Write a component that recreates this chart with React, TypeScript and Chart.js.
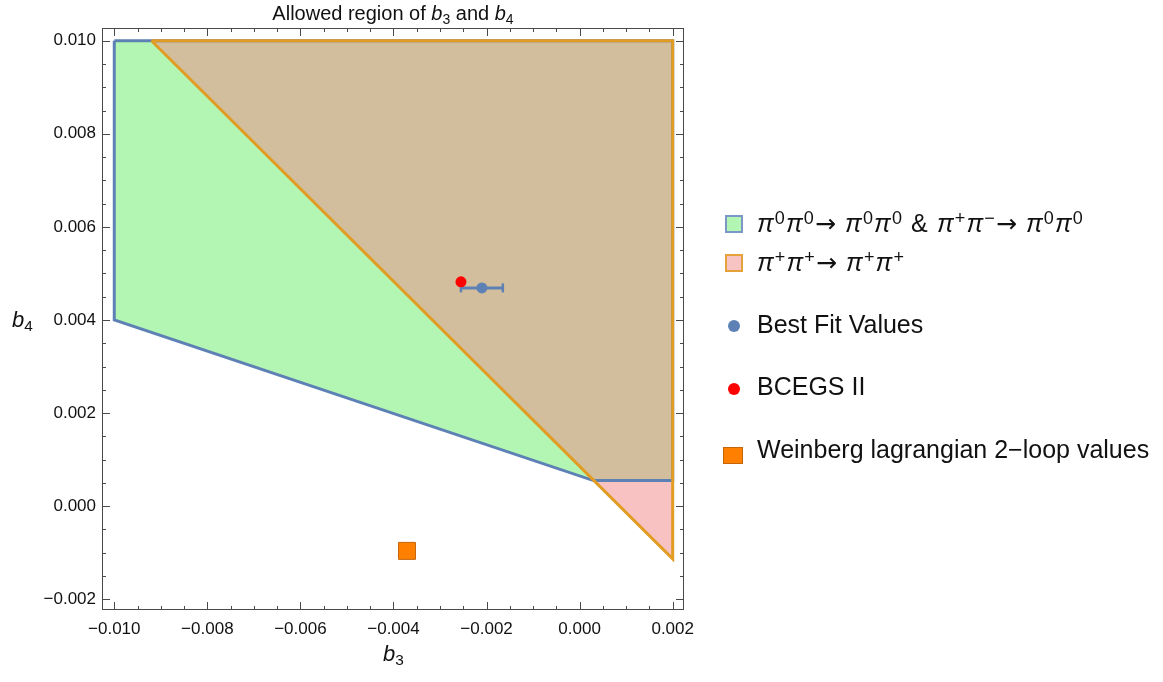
import React, { useEffect, useRef } from "react";
import Chart from "chart.js/auto";

// ---- axis ranges / ticks ----
const X_MIN = -0.010264;
const X_MAX = 0.002243;
const Y_MIN = -0.00223;
const Y_MAX = 0.010273;
const MAJOR_STEP = 0.002;
const MINOR_STEP = 0.0005;

// ---- regions ----
// pi0 pi0 -> pi0 pi0 & pi+ pi- -> pi0 pi0 (green, blue edge)
const greenRegionB3 = [-0.01, -0.01, 0.0003, 0.002, 0.002, -0.01];
const greenRegionB4 = [0.01, 0.004, 0.00055, 0.00055, 0.01, 0.01];
// pi+ pi+ -> pi+ pi+ (pink, orange edge)
const orangeRegionB3 = [-0.0092, 0.002, 0.002, -0.0092];
const orangeRegionB4 = [0.01, 0.01, -0.00113, 0.01];

// ---- points ----
const bestFitB3 = [-0.0021];
const bestFitB4 = [0.00469];
const bestFitB3Err = [0.00045];
const bcegsB3 = [-0.00255];
const bcegsB4 = [0.00482];
const weinbergB3 = [-0.00371];
const weinbergB4 = [-0.00096];

const BLUE = "#5e81b5";
const ORANGE = "#e19c24";
const FONT = '"Liberation Sans", Arial, sans-serif';

const toPts = (xs: number[], ys: number[]) => xs.map((x, i) => ({ x, y: ys[i] }));

const fmt = (v: number) => {
  const s = Math.abs(v) < 1e-12 ? "0.000" : v.toFixed(3);
  return s.replace("-", "\u2212");
};

const framePlugin = {
  id: "frameTicks",
  afterDraw(chart: any) {
    const { ctx, chartArea, scales } = chart;
    const { left, right, top, bottom } = chartArea;
    ctx.save();
    ctx.strokeStyle = "#4a4a4a";
    ctx.lineWidth = 1;
    ctx.strokeRect(left + 0.5, top + 0.5, right - left - 1, bottom - top - 1);
    const xs = scales.x;
    const ys = scales.y;
    ctx.beginPath();
    for (let k = -24; k <= 8; k++) {
      const v = k * MINOR_STEP;
      const len = k % 4 === 0 ? 8 : 4;
      if (v >= X_MIN && v <= X_MAX) {
        const px = Math.round(xs.getPixelForValue(v)) + 0.5;
        ctx.moveTo(px, bottom);
        ctx.lineTo(px, bottom - len);
        ctx.moveTo(px, top);
        ctx.lineTo(px, top + len);
      }
    }
    for (let k = -8; k <= 24; k++) {
      const v = k * MINOR_STEP;
      const len = k % 4 === 0 ? 8 : 4;
      if (v >= Y_MIN && v <= Y_MAX) {
        const py = Math.round(ys.getPixelForValue(v)) + 0.5;
        ctx.moveTo(left, py);
        ctx.lineTo(left + len, py);
        ctx.moveTo(right, py);
        ctx.lineTo(right - len, py);
      }
    }
    ctx.stroke();
    ctx.restore();
  },
};

function ChartCanvas() {
  const ref = useRef<HTMLCanvasElement | null>(null);
  useEffect(() => {
    if (!ref.current) return;
    const errPts = [
      { x: bestFitB3[0] - bestFitB3Err[0], y: bestFitB4[0] },
      { x: bestFitB3[0] + bestFitB3Err[0], y: bestFitB4[0] },
    ];
    const chart = new Chart(ref.current, {
      type: "scatter",
      data: {
        datasets: [
          {
            label: "green",
            data: toPts(greenRegionB3, greenRegionB4),
            showLine: true,
            fill: "shape",
            backgroundColor: "rgb(179,246,179)",
            borderColor: BLUE,
            borderWidth: 3,
            borderJoinStyle: "miter",
            pointRadius: 0,
            order: 9,
          } as any,
          {
            label: "orange",
            data: toPts(orangeRegionB3, orangeRegionB4),
            showLine: true,
            fill: "shape",
            backgroundColor: "rgba(241,134,134,0.5)",
            borderColor: ORANGE,
            borderWidth: 3,
            borderJoinStyle: "miter",
            pointRadius: 0,
            order: 8,
          } as any,
          {
            label: "err",
            data: errPts,
            showLine: true,
            borderColor: BLUE,
            borderWidth: 3,
            pointStyle: "line",
            pointRotation: 90,
            pointRadius: 4.5,
            pointBorderWidth: 2.5,
            pointBorderColor: BLUE,
            order: 3,
          } as any,
          {
            label: "Best Fit Values",
            data: toPts(bestFitB3, bestFitB4),
            pointRadius: 5.5,
            pointBackgroundColor: BLUE,
            pointBorderColor: BLUE,
            pointBorderWidth: 0,
            order: 2,
          } as any,
          {
            label: "BCEGS II",
            data: toPts(bcegsB3, bcegsB4),
            pointRadius: 5.5,
            pointBackgroundColor: "#ff0000",
            pointBorderColor: "#ff0000",
            pointBorderWidth: 0,
            order: 1,
          } as any,
          {
            label: "Weinberg lagrangian 2-loop values",
            data: toPts(weinbergB3, weinbergB4),
            pointStyle: "rect",
            pointRadius: 12,
            pointBackgroundColor: "#ff8000",
            pointBorderColor: "#c4650a",
            pointBorderWidth: 1,
            order: 1,
          } as any,
        ],
      },
      options: {
        animation: false,
        responsive: false,
        maintainAspectRatio: false,
        events: [],
        layout: { padding: { left: 0, top: 28, right: 479, bottom: 0 } },
        plugins: {
          legend: { display: false },
          tooltip: { enabled: false },
          filler: { drawTime: "beforeDatasetsDraw" },
        } as any,
        scales: {
          x: {
            type: "linear",
            min: X_MIN,
            max: X_MAX,
            grid: { display: false, drawTicks: false },
            border: { display: false },
            ticks: {
              stepSize: MAJOR_STEP,
              includeBounds: false,
              padding: 9,
              maxRotation: 0,
              autoSkip: false,
              color: "#111",
              font: { family: FONT, size: 17 },
              callback: (v: any) => fmt(Number(v)),
            },
            afterFit: (s: any) => {
              s.height = 72;
            },
          } as any,
          y: {
            type: "linear",
            min: Y_MIN,
            max: Y_MAX,
            grid: { display: false, drawTicks: false },
            border: { display: false },
            ticks: {
              stepSize: MAJOR_STEP,
              includeBounds: false,
              padding: 6,
              autoSkip: false,
              color: "#111",
              font: { family: FONT, size: 17 },
              callback: (v: any) => fmt(Number(v)),
            },
            afterFit: (s: any) => {
              s.width = 102;
            },
          } as any,
        },
      },
      plugins: [framePlugin],
    });
    return () => chart.destroy();
  }, []);
  return <canvas ref={ref} width={1163} height={682} style={{ position: "absolute", left: 0, top: 0 }} />;
}

const supS: React.CSSProperties = { fontSize: "0.72em", verticalAlign: "0.42em", lineHeight: 0 };
const subS: React.CSSProperties = { fontSize: "0.7em", verticalAlign: "-0.28em", lineHeight: 0 };
const arrowS: React.CSSProperties = { fontFamily: '"DejaVu Sans", sans-serif', fontSize: "1em" };

const Pi = ({ s }: { s: string }) => (
  <>
    <span style={{ fontStyle: "italic" }}>π</span>
    <span style={supS}>{s}</span>
  </>
);
const Arrow = () => <span style={arrowS}>→</span>;

export default function App() {
  const txt = (top: number, left: number, size: number, children: React.ReactNode, extra: React.CSSProperties = {}) => (
    <div
      style={{
        position: "absolute",
        top,
        left,
        fontSize: size,
        lineHeight: 1,
        whiteSpace: "nowrap",
        color: "#111",
        ...extra,
      }}
    >
      {children}
    </div>
  );
  return (
    <div
      style={{
        position: "fixed",
        left: 0,
        top: 0,
        width: 1163,
        height: 682,
        background: "#fff",
        fontFamily: FONT,
        overflow: "hidden",
      }}
    >
      <ChartCanvas />
      {txt(
        3,
        0,
        20,
        <>
          Allowed region of <i>b</i>
          <span style={subS}>3</span> and <i>b</i>
          <span style={subS}>4</span>
        </>,
        { width: 786, textAlign: "center" }
      )}
      {txt(
        643,
        383,
        22,
        <>
          <i>b</i>
          <span style={subS}>3</span>
        </>
      )}
      {txt(
        309,
        12,
        22,
        <>
          <i>b</i>
          <span style={subS}>4</span>
        </>
      )}
      {/* legend markers */}
      <div style={{ position: "absolute", left: 725, top: 215, width: 18, height: 18, boxSizing: "border-box", background: "#b3f6b3", border: "2px solid #7b97c6" }} />
      <div style={{ position: "absolute", left: 725, top: 254, width: 18, height: 18, boxSizing: "border-box", background: "#f8c3c3", border: "2px solid #e5a23a" }} />
      <div style={{ position: "absolute", left: 728, top: 320, width: 12, height: 12, borderRadius: "50%", background: BLUE }} />
      <div style={{ position: "absolute", left: 728, top: 383, width: 12, height: 12, borderRadius: "50%", background: "#ff0000" }} />
      <div style={{ position: "absolute", left: 723, top: 447, width: 20, height: 17, boxSizing: "border-box", background: "#ff8000", border: "1px solid #c4650a" }} />
      {txt(
        211,
        757,
        25,
        <>
          <Pi s="0" />
          <Pi s="0" />
          <Arrow /> <Pi s="0" />
          <Pi s="0" /> &amp; <Pi s="+" />
          <Pi s="−" />
          <Arrow /> <Pi s="0" />
          <Pi s="0" />
        </>,
        { letterSpacing: "1.1px" }
      )}
      {txt(
        250,
        757,
        25,
        <>
          <Pi s="+" />
          <Pi s="+" />
          <Arrow /> <Pi s="+" />
          <Pi s="+" />
        </>,
        { letterSpacing: "1.1px" }
      )}
      {txt(312, 757, 25, "Best Fit Values")}
      {txt(374, 757, 25, "BCEGS II")}
      {txt(437, 757, 25, "Weinberg lagrangian 2\u2212loop values")}
    </div>
  );
}
